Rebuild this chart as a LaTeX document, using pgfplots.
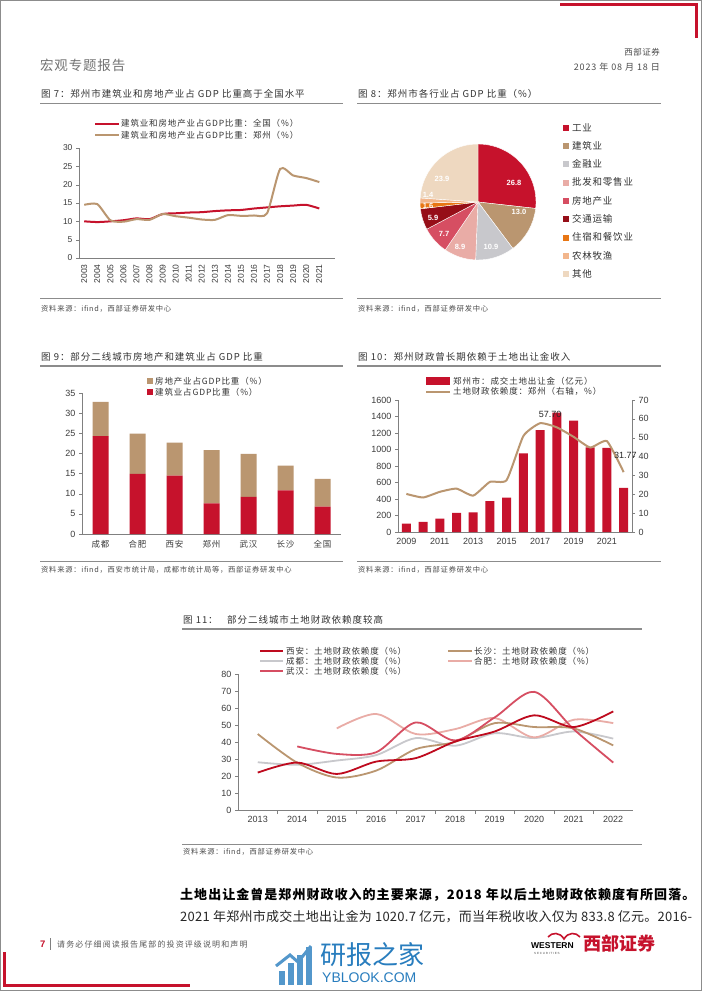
\documentclass[border=0pt]{standalone}
\usepackage{fontspec}
\setmainfont{Noto Sans CJK SC}
\newfontfamily\lat{Liberation Sans}
\newfontfamily\cjks{Noto Sans CJK SC}[LetterSpace=6]
\newfontfamily\cjkt{Noto Sans CJK SC}[LetterSpace=10]
\newfontfamily\cjkw{Noto Sans CJK SC}[LetterSpace=14]
\newfontfamily\cjkb{Noto Sans CJK SC}[LetterSpace=8]
\newfontfamily\cjkn{Noto Sans CJK SC}[LetterSpace=2]
\usepackage{pgfplots}
\pgfplotsset{compat=1.18}
\pgfplotsset{/pgf/number format/1000 sep={}, /pgf/number format/assume math mode=true}
\newcommand\fs[1]{\fontsize{#1}{#1}\selectfont}
\definecolor{cred}{RGB}{198,18,44}
\definecolor{ctan}{RGB}{186,150,112}
\definecolor{cgray}{RGB}{200,200,204}
\definecolor{cpinkl}{RGB}{233,172,166}
\definecolor{cpink}{RGB}{214,78,98}
\definecolor{cdred}{RGB}{150,14,24}
\definecolor{corange}{RGB}{232,118,20}
\definecolor{corangel}{RGB}{242,182,140}
\definecolor{cbeige}{RGB}{238,216,192}
\definecolor{cxian}{RGB}{190,10,30}
\definecolor{txt}{RGB}{60,60,60}
\definecolor{rule}{RGB}{140,140,140}
\definecolor{wm}{RGB}{40,125,190}
\pgfplotsset{
  pagestyle/.style={scale only axis, anchor=south west,
    axis line style={-, draw=black!50},
    tick style={draw=black!50},
    tick align=outside, major tick length=3pt,
    tick label style={font=\lat\fs{9}, text=txt},
    clip=false},
}
\begin{document}
\begin{tikzpicture}[x=1pt,y=1pt]
\useasboundingbox (0,0) rectangle (702,-991);
\fill[white] (0,0) rectangle (702,-991);
\draw[black!45, line width=0.8pt] (0.5,-0.5) rectangle (701.5,-990.5);
% red corners
\fill[cred] (560,-3) rectangle (698,-6);
\fill[cred] (695,-3) rectangle (698,-38);
\fill[cred] (3,-952) rectangle (6,-987);
\fill[cred] (3,-984) rectangle (190,-987);
% header
\node[anchor=west, inner sep=0, text=black!55] at (40,-65) {\cjks\fs{13.5}宏观专题报告};
\node[anchor=east, inner sep=0, text=black!70] at (660,-52) {\cjks\fs{8.5}西部证券};
\node[anchor=east, inner sep=0, text=black!70] at (660,-67) {\cjkt\fs{9}2023 年 08 月 18 日};

% ---------- titles & rules ----------
\node[anchor=west, inner sep=0, text=black!80] at (41,-94) {\cjkt\fs{9.5}图 7：郑州市建筑业和房地产业占 GDP 比重高于全国水平};
\draw[rule, line width=1.2pt] (40,-103.5) -- (343,-103.5);
\draw[rule, line width=1pt] (40,-298) -- (343,-298);
\node[anchor=west, inner sep=0, text=black!70] at (41,-309) {\cjkt\fs{7.3}资料来源：ifind，西部证券研发中心};

\node[anchor=west, inner sep=0, text=black!80] at (358,-94) {\cjkt\fs{9.5}图 8：郑州市各行业占 GDP 比重（\%）};
\draw[rule, line width=1.2pt] (357,-103.5) -- (661,-103.5);
\draw[rule, line width=1pt] (357,-298) -- (661,-298);
\node[anchor=west, inner sep=0, text=black!70] at (358,-309) {\cjkt\fs{7.3}资料来源：ifind，西部证券研发中心};

\node[anchor=west, inner sep=0, text=black!80] at (41,-357) {\cjkt\fs{9.5}图 9：部分二线城市房地产和建筑业占 GDP 比重};
\draw[rule, line width=1.2pt] (40,-366) -- (343,-366);
\draw[rule, line width=1pt] (40,-561) -- (343,-561);
\node[anchor=west, inner sep=0, text=black!70] at (41,-570) {\cjkt\fs{7.3}资料来源：ifind，西安市统计局，成都市统计局等，西部证券研发中心};

\node[anchor=west, inner sep=0, text=black!80] at (358,-357) {\cjkt\fs{9.5}图 10：郑州财政曾长期依赖于土地出让金收入};
\draw[rule, line width=1.2pt] (357,-366) -- (661,-366);
\draw[rule, line width=1pt] (357,-561) -- (661,-561);
\node[anchor=west, inner sep=0, text=black!70] at (358,-570) {\cjkt\fs{7.3}资料来源：ifind，西部证券研发中心};

\node[anchor=west, inner sep=0, text=black!80] at (183,-620) {\cjkt\fs{9.5}图 11：\quad 部分二线城市土地财政依赖度较高};
\draw[rule, line width=1.2pt] (182,-629) -- (642,-629);
\draw[rule, line width=1pt] (182,-844) -- (642,-844);
\node[anchor=west, inner sep=0, text=black!70] at (183,-852) {\cjkt\fs{7.3}资料来源：ifind，西部证券研发中心};

% ---------- Chart 7 ----------
\draw[cred, line width=2pt] (95,-123.5) -- (119,-123.5);
\node[anchor=west, inner sep=0, text=black!80] at (121,-123.5) {\cjkt\fs{8.5}建筑业和房地产业占GDP比重：全国（\%）};
\draw[ctan, line width=2pt] (95,-135) -- (119,-135);
\node[anchor=west, inner sep=0, text=black!80] at (121,-135) {\cjkt\fs{8.5}建筑业和房地产业占GDP比重：郑州（\%）};
\begin{axis}[pagestyle, at={(79pt,-258pt)}, width=256pt, height=110pt,
  xmin=2002.6, xmax=2022.2, ymin=0, ymax=30, ytick={0,5,...,30},
  xtick={2003,...,2021}, xticklabel style={rotate=90, anchor=east},
  tick label style={font=\lat\fs{8.5}},
  axis x line*=bottom, axis y line*=left, x tick style={draw=none}]
\addplot[cred, line width=2pt, smooth, tension=0.4] coordinates {
(2003,10.0)(2004,9.8)(2005,10.0)(2006,10.3)(2007,10.8)(2008,10.6)(2009,12.0)(2010,12.2)(2011,12.4)(2012,12.5)
(2013,12.8)(2014,13.0)(2015,13.1)(2016,13.5)(2017,13.8)(2018,14.1)(2019,14.3)(2020,14.5)(2021,13.5)};
\addplot[ctan, line width=2pt, smooth, tension=0.4] coordinates {
(2003,14.5)(2004,14.7)(2005,10.3)(2006,9.9)(2007,10.6)(2008,10.4)(2009,12.0)(2010,11.4)(2011,11.0)(2012,10.5)
(2013,10.4)(2014,11.7)(2015,11.5)(2016,11.6)(2017,12.2)(2018,24.3)(2019,22.5)(2020,21.8)(2021,20.7)};
\end{axis}

% ---------- Chart 8 (pie) ----------
\pgfmathsetmacro\pk{360/100.1}
\pgfmathsetmacro\aA{90}
\pgfmathsetmacro\aB{\aA-26.8*\pk}
\pgfmathsetmacro\aC{\aB-13.0*\pk}
\pgfmathsetmacro\aD{\aC-10.9*\pk}
\pgfmathsetmacro\aE{\aD-8.9*\pk}
\pgfmathsetmacro\aF{\aE-7.7*\pk}
\pgfmathsetmacro\aG{\aF-5.9*\pk}
\pgfmathsetmacro\aH{\aG-1.6*\pk}
\pgfmathsetmacro\aI{\aH-1.4*\pk}
\pgfmathsetmacro\aJ{\aI-23.9*\pk}
\begin{axis}[at={(478pt,-202pt)}, anchor=center, x=1pt, y=1pt, xmin=-60, xmax=60, ymin=-60, ymax=60, hide axis, clip=false]
\fill[cred, draw=white, line width=0.4pt] (axis cs:0,0) -- (axis cs:{58*cos(\aA)},{58*sin(\aA)}) arc[start angle=\aA, end angle=\aB, radius=58pt] -- cycle;
\fill[ctan, draw=white, line width=0.4pt] (axis cs:0,0) -- (axis cs:{58*cos(\aB)},{58*sin(\aB)}) arc[start angle=\aB, end angle=\aC, radius=58pt] -- cycle;
\fill[cgray, draw=white, line width=0.4pt] (axis cs:0,0) -- (axis cs:{58*cos(\aC)},{58*sin(\aC)}) arc[start angle=\aC, end angle=\aD, radius=58pt] -- cycle;
\fill[cpinkl, draw=white, line width=0.4pt] (axis cs:0,0) -- (axis cs:{58*cos(\aD)},{58*sin(\aD)}) arc[start angle=\aD, end angle=\aE, radius=58pt] -- cycle;
\fill[cpink, draw=white, line width=0.4pt] (axis cs:0,0) -- (axis cs:{58*cos(\aE)},{58*sin(\aE)}) arc[start angle=\aE, end angle=\aF, radius=58pt] -- cycle;
\fill[cdred, draw=white, line width=0.4pt] (axis cs:0,0) -- (axis cs:{58*cos(\aF)},{58*sin(\aF)}) arc[start angle=\aF, end angle=\aG, radius=58pt] -- cycle;
\fill[corange, draw=white, line width=0.4pt] (axis cs:0,0) -- (axis cs:{58*cos(\aG)},{58*sin(\aG)}) arc[start angle=\aG, end angle=\aH, radius=58pt] -- cycle;
\fill[corangel, draw=white, line width=0.4pt] (axis cs:0,0) -- (axis cs:{58*cos(\aH)},{58*sin(\aH)}) arc[start angle=\aH, end angle=\aI, radius=58pt] -- cycle;
\fill[cbeige, draw=white, line width=0.4pt] (axis cs:0,0) -- (axis cs:{58*cos(\aI)},{58*sin(\aI)}) arc[start angle=\aI, end angle=\aJ, radius=58pt] -- cycle;
\begin{scope}[every node/.style={text=white, font=\lat\bfseries\fs{7.5}, inner sep=0}]
\node at (axis cs:36,19) {26.8};
\node at (axis cs:41,-10) {13.0};
\node at (axis cs:13,-45) {10.9};
\node at (axis cs:-18,-45) {8.9};
\node at (axis cs:-34,-32) {7.7};
\node at (axis cs:-45,-16) {5.9};
\node at (axis cs:-50,-4) {1.6};
\node at (axis cs:-50,7) {1.4};
\node at (axis cs:-36,23) {23.9};
\end{scope}
\end{axis}
% pie legend
\begin{scope}[every node/.style={anchor=west, inner sep=0, text=black!80, font=\cjkb\fs{9.5}}]
\fill[cred] (563,-124.5) rectangle (569,-130.5); \node at (572,-127.3) {工业};
\fill[ctan] (563,-142.9) rectangle (569,-148.9); \node at (572,-145.7) {建筑业};
\fill[cgray] (563,-161.2) rectangle (569,-167.2); \node at (572,-164) {金融业};
\fill[cpinkl] (563,-179.5) rectangle (569,-185.5); \node at (572,-182.3) {批发和零售业};
\fill[cpink] (563,-197.9) rectangle (569,-203.9); \node at (572,-200.7) {房地产业};
\fill[cdred] (563,-216.2) rectangle (569,-222.2); \node at (572,-219) {交通运输};
\fill[corange] (563,-234.5) rectangle (569,-240.5); \node at (572,-237.3) {住宿和餐饮业};
\fill[corangel] (563,-252.9) rectangle (569,-258.9); \node at (572,-255.7) {农林牧渔};
\fill[cbeige] (563,-271.2) rectangle (569,-277.2); \node at (572,-274) {其他};
\end{scope}

% ---------- Chart 9 ----------
\fill[ctan] (147,-378) rectangle (153,-384);
\node[anchor=west, inner sep=0, text=black!80] at (155,-381) {\cjkt\fs{8.5}房地产业占GDP比重（\%）};
\fill[cred] (147,-389) rectangle (153,-395);
\node[anchor=west, inner sep=0, text=black!80] at (155,-392) {\cjkt\fs{8.5}建筑业占GDP比重（\%）};
\begin{axis}[pagestyle, at={(82pt,-534pt)}, width=259pt, height=141pt,
  ybar stacked, bar width=16pt, xmin=-0.5, xmax=6.5, ymin=0, ymax=35, ytick={0,5,...,35},
  xtick={0,...,6}, xticklabels={成都,合肥,西安,郑州,武汉,长沙,全国},
  xticklabel style={font=\cjkt\fs{8.5}},
  axis x line*=bottom, axis y line*=left, x tick style={draw=none}]
\addplot[fill=cred, draw=none] coordinates {(0,24.3)(1,14.9)(2,14.5)(3,7.6)(4,9.2)(5,10.8)(6,6.8)};
\addplot[fill=ctan, draw=none] coordinates {(0,8.5)(1,10.0)(2,8.2)(3,13.2)(4,10.7)(5,6.2)(6,6.9)};
\end{axis}

% ---------- Chart 10 ----------
\fill[cred] (426,-377) rectangle (450,-385);
\node[anchor=west, inner sep=0, text=black!80] at (453,-381) {\cjkt\fs{8.5}郑州市：成交土地出让金（亿元）};
\draw[ctan, line width=2pt] (426,-391.5) -- (450,-391.5);
\node[anchor=west, inner sep=0, text=black!80] at (453,-391.5) {\cjkt\fs{8.5}土地财政依赖度：郑州（右轴，\%）};
\begin{axis}[pagestyle, at={(398pt,-532pt)}, width=234pt, height=132pt,
  ybar, bar width=9pt, xmin=2008.5, xmax=2022.5, ymin=0, ymax=1600, ytick={0,200,...,1600},
  xtick={2009,2011,...,2021}, axis x line*=bottom, axis y line*=left, x tick style={draw=none}]
\addplot[fill=cred, draw=none] coordinates {(2009,101)(2010,122)(2011,162)(2012,231)(2013,239)(2014,373)(2015,417)
(2016,952)(2017,1235)(2018,1446)(2019,1349)(2020,1025)(2021,1021)(2022,535)};
\end{axis}
\begin{axis}[pagestyle, at={(398pt,-532pt)}, width=234pt, height=132pt,
  xmin=2008.5, xmax=2022.5, ymin=0, ymax=70, ytick={0,10,...,70},
  axis x line=none, axis y line*=right]
\addplot[ctan, line width=2pt, smooth, tension=0.3] coordinates {(2009,20.2)(2010,18.3)(2011,21.3)(2012,23.0)(2013,19.3)(2014,26.6)(2015,27.5)
(2016,50.9)(2017,57.7)(2018,55.5)(2019,50.5)(2020,44.8)(2021,48.2)(2022,31.77)};
\node[font=\lat\fs{9}, text=black!85, inner sep=0] at (axis cs:2017.6,62.6) {57.70};
\node[font=\lat\fs{9}, text=black!85, inner sep=0] at (axis cs:2022.1,40.7) {31.77};
\end{axis}

% ---------- Chart 11 ----------
\begin{scope}[every node/.style={anchor=west, inner sep=0, text=black!80, font=\cjkt\fs{8.5}}]
\draw[cxian, line width=2pt] (260,-651) -- (283,-651); \node at (286,-651) {西安：土地财政依赖度（\%）};
\draw[cgray, line width=2pt] (260,-661) -- (283,-661); \node at (286,-661) {成都：土地财政依赖度（\%）};
\draw[cpink, line width=2pt] (260,-671) -- (283,-671); \node at (286,-671) {武汉：土地财政依赖度（\%）};
\draw[ctan, line width=2pt] (448,-651) -- (472,-651); \node at (474,-651) {长沙：土地财政依赖度（\%）};
\draw[cpinkl, line width=2pt] (448,-661) -- (472,-661); \node at (474,-661) {合肥：土地财政依赖度（\%）};
\end{scope}
\begin{axis}[pagestyle, at={(238pt,-810pt)}, width=395pt, height=136pt,
  xmin=2012.5, xmax=2022.5, ymin=0, ymax=80, ytick={0,10,...,80},
  xtick={2013,...,2022}, minor xtick={2013.5,2014.5,...,2021.5},
  x tick style={draw=none}, minor x tick style={draw=black!50}, minor tick length=4pt,
  axis x line*=bottom, axis y line*=left]
\addplot[cgray, line width=1.8pt, smooth] coordinates {(2013,28.1)(2014,26.6)(2015,29.1)(2016,32.3)(2017,42.3)(2018,37.8)(2019,45.2)(2020,42.3)(2021,46.2)(2022,42.0)};
\addplot[cpinkl, line width=1.8pt, smooth] coordinates {(2015,48.0)(2016,56.5)(2017,44.7)(2018,47.6)(2019,54.1)(2020,42.7)(2021,53.1)(2022,51.1)};
\addplot[ctan, line width=1.8pt, smooth] coordinates {(2013,44.7)(2014,27.8)(2015,19.1)(2016,23.2)(2017,35.8)(2018,40.1)(2019,51.1)(2020,48.8)(2021,48.0)(2022,38.0)};
\addplot[cpink, line width=1.8pt, smooth] coordinates {(2014,37.4)(2015,33.0)(2016,34.0)(2017,51.5)(2018,40.9)(2019,54.5)(2020,69.5)(2021,47.5)(2022,27.9)};
\addplot[cxian, line width=1.8pt, smooth] coordinates {(2013,22.0)(2014,27.9)(2015,21.2)(2016,28.5)(2017,30.5)(2018,40.3)(2019,46.2)(2020,55.7)(2021,48.8)(2022,58.0)};
\end{axis}

% ---------- body text ----------
\node[anchor=west, inner sep=0, text=black] at (180,-895) {\cjkb\fs{13}\bfseries 土地出让金曾是郑州财政收入的主要来源，2018 年以后土地财政依赖度有所回落。};
\node[anchor=west, inner sep=0, text=black!85] at (180,-917) {\cjkn\fs{13}2021 年郑州市成交土地出让金为 1020.7 亿元，而当年税收收入仅为 833.8 亿元。2016-};

% ---------- footer ----------
\node[anchor=west, inner sep=0, text=cred] at (40,-944) {\lat\bfseries\fs{9.5}7};
\draw[black!50, line width=0.6pt] (50,-938) -- (50,-950);
\node[anchor=west, inner sep=0, text=black!65] at (57,-944) {\cjkw\fs{8}请务必仔细阅读报告尾部的投资评级说明和声明};
\node[anchor=west, inner sep=0, text=black] at (531,-946) {\lat\bfseries\fs{8.5}WESTERN};
\node[anchor=west, inner sep=0, text=black!70] at (534,-953) {\lat\fs{3}S E C U R I T I E S};
\draw[cred, line width=1.6pt] (548,-937) .. controls (552,-932) and (560,-932) .. (564,-939) .. controls (568,-932) and (576,-932) .. (580,-937);
\node[anchor=west, inner sep=0, text=cred] at (583,-944) {\bfseries\fs{18}西部证券};
% watermark
\foreach \xx/\hh in {279/14,288/22,297/30,306/38} {\fill[wm!80] (\xx,-985) rectangle (\xx+6,-985+\hh);}
\draw[wm!80, line width=3pt] (276,-966) -- (290,-955) -- (298,-962) -- (311,-946);
\node[anchor=west, inner sep=0, text=wm] at (320,-955) {\fs{26}研报之家};
\node[anchor=west, inner sep=0, text=wm] at (322,-978) {\lat\fs{14}YBLOOK.COM};
\end{tikzpicture}
\end{document}
